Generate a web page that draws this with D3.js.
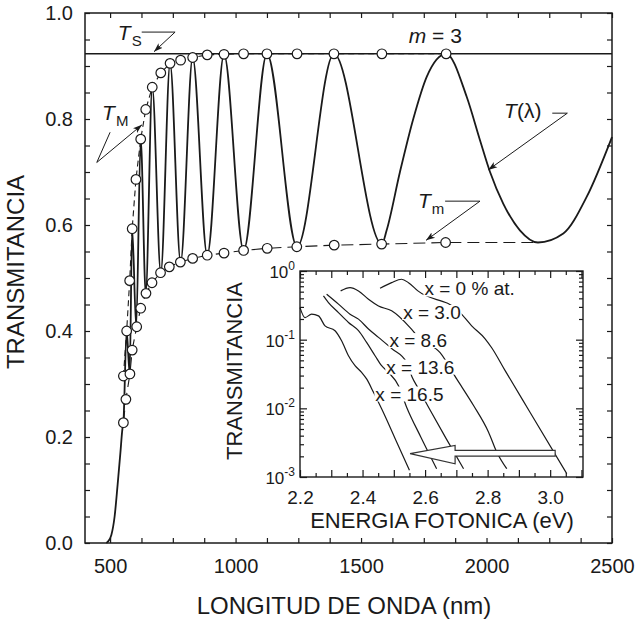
<!DOCTYPE html>
<html>
<head>
<meta charset="utf-8">
<script src="https://cdn.jsdelivr.net/npm/d3@7"></script>
<style type="text/css">

  body{
    margin: 0px;
    background: white;
  }

  svg{
    font-family: 'Liberation Sans', Arial, Helvetica, sans-serif;
  }

  .axis path{
    display: none;
  }
  .axis line{
    stroke: #1a1a1a;
    stroke-width: 1.2;
  }
  .axis text{
    fill: #1a1a1a;
    font-family: 'Liberation Sans', Arial, Helvetica, sans-serif;
  }

</style>
</head>
<body>

<svg id="chart" width="636" height="620"></svg>

<script>

// main spectrum T(lambda)
var lambdaT = [485, 492, 505, 518, 530, 541, 549, 553, 566, 578, 588, 604, 622, 642, 668, 702, 739, 781,
               829, 887, 954, 1032, 1125, 1245, 1392, 1583, 1602, 1655, 1708, 1762, 1839,
               1921, 1974, 2014, 2067, 2133, 2205, 2306, 2399, 2500];
var transT  = [0, 0.003, 0.015, 0.05, 0.11, 0.17, 0.215, 0.227, 0.40, 0.319, 0.593, 0.408, 0.762, 0.471, 0.86, 0.51, 0.905, 0.53,
               0.916, 0.543, 0.922, 0.552, 0.923, 0.559, 0.923, 0.564, 0.59, 0.70, 0.80, 0.88, 0.923,
               0.842, 0.76, 0.70, 0.64, 0.59, 0.567, 0.584, 0.653, 0.766];

// envelopes T_M (upper) and T_m (lower)
var lambdaUp = [553, 566, 578, 588, 603, 622, 642, 668, 702, 739, 781, 829, 887, 954, 1032, 1125, 1245, 1392, 1583, 1839];
var tUp      = [0.315, 0.40, 0.495, 0.593, 0.686, 0.762, 0.818, 0.86, 0.887, 0.905, 0.911, 0.916, 0.921, 0.922, 0.923, 0.923, 0.923, 0.923, 0.923, 0.923];
var lambdaLow = [553, 563, 579, 588, 606, 622, 643, 667, 701, 736, 780, 829, 887, 954, 1032, 1126, 1244, 1393, 1582, 1837];
var tLow      = [0.227, 0.271, 0.319, 0.364, 0.408, 0.443, 0.471, 0.491, 0.51, 0.521, 0.53, 0.537, 0.543, 0.547, 0.552, 0.556, 0.559, 0.562, 0.564, 0.567];
var lowTail = [2205, 0.567];   // dashed T_m continues to last minimum, no circle

var tSubstrate = 0.923;

var xTicks = d3.range(500, 2501, 125);
var yTicks = d3.range(0, 21).map(function(i) { return +(i * 0.05).toFixed(2); });

// inset: absorption edge for several compositions
var insetNames = ['x = 0 % at.', 'x = 3.0', 'x = 8.6', 'x = 13.6', 'x = 16.5'];
var eX0   = [2.456, 2.493, 2.525, 2.547, 2.577, 2.707, 2.749, 2.792, 2.813, 2.856, 2.936, 3.053];
var tX0   = [0.561, 0.676, 0.758, 0.676, 0.513, 0.263, 0.159, 0.103, 0.0762, 0.0354, 0.00869, 0.00112];
var eX30  = [2.330, 2.360, 2.387, 2.419, 2.451, 2.493, 2.552, 2.579, 2.648, 2.701, 2.755, 2.803, 2.829, 2.861];
var tX30  = [0.513, 0.573, 0.513, 0.388, 0.310, 0.263, 0.150, 0.108, 0.0646, 0.0268, 0.0110, 0.0045, 0.00231, 0.00132];
var eX86  = [2.285, 2.323, 2.360, 2.387, 2.419, 2.451, 2.494, 2.541, 2.558, 2.579, 2.611, 2.667, 2.723];
var tX86  = [0.459, 0.329, 0.235, 0.199, 0.143, 0.108, 0.0738, 0.0467, 0.0289, 0.0192, 0.0104, 0.00365, 0.00132];
var eX136 = [2.275, 2.291, 2.323, 2.355, 2.387, 2.413, 2.440, 2.461, 2.483, 2.515, 2.541, 2.587, 2.637];
var tX136 = [0.434, 0.347, 0.248, 0.178, 0.135, 0.0911, 0.0584, 0.0418, 0.0334, 0.0214, 0.0104, 0.00377, 0.00132];
var eX165 = [2.200, 2.216, 2.237, 2.259, 2.280, 2.312, 2.333, 2.355, 2.376, 2.397, 2.413, 2.435, 2.461, 2.504, 2.550];
var tX165 = [0.293, 0.210, 0.235, 0.222, 0.159, 0.135, 0.0964, 0.0584, 0.0418, 0.0334, 0.0268, 0.0171, 0.00984, 0.00365, 0.00125];

var insetE = [eX0, eX30, eX86, eX136, eX165];
var insetT = [tX0, tX30, tX86, tX136, tX165];
// label anchors (energy, transmittance) of the curve labels
var labelE = [2.598, 2.530, 2.486, 2.476, 2.441];
var labelT = [0.44, 0.20, 0.078, 0.032, 0.013];

var insetXTicks = d3.range(0, 19).map(function(i) { return +(2.2 + i * 0.05).toFixed(2); });
var insetYTicks = [];
[-3, -2, -1].forEach(function(k) {
  for (var m = 1; m <= 9; m++) insetYTicks.push(m * Math.pow(10, k));
});
insetYTicks.push(1);
var insetDecades = [-3, -2, -1, 0];

var ink = '#1a1a1a';

var svg = d3.select('#chart');

var x = d3.scaleLinear().domain([400, 2500]).range([85, 612]);
var y = d3.scaleLinear().domain([0, 1]).range([543, 13]);

var defs = svg.append('defs');
defs.append('marker')
  .attr('id', 'arr')
  .attr('viewBox', '0 0 10 10')
  .attr('refX', 10).attr('refY', 5)
  .attr('markerWidth', 9).attr('markerHeight', 9)
  .attr('markerUnits', 'userSpaceOnUse')
  .attr('orient', 'auto')
  .append('path')
  .attr('d', 'M0,1.5 L10,5 L0,8.5 L2.5,5 z')
  .attr('fill', ink);

// ---- main axes
svg.append('g').attr('class', 'axis').attr('transform', 'translate(0,543)')
  .call(d3.axisBottom(x).tickValues(xTicks).tickSize(-5).tickSizeOuter(0).tickPadding(16)
    .tickFormat(function(d) { return d % 500 === 0 ? d : ''; }))
  .selectAll('text').style('font-size', '20px');

svg.append('g').attr('class', 'axis').attr('transform', 'translate(0,13)')
  .call(d3.axisTop(x).tickValues(xTicks).tickSize(-5).tickSizeOuter(0).tickFormat(''));

svg.append('g').attr('class', 'axis').attr('transform', 'translate(85,0)')
  .call(d3.axisLeft(y).tickValues(yTicks).tickSize(-5).tickSizeOuter(0).tickPadding(12)
    .tickFormat(function(d, i) { return i % 4 === 0 ? d3.format('.1f')(d) : ''; }))
  .selectAll('text').style('font-size', '20px');

svg.append('g').attr('class', 'axis').attr('transform', 'translate(612,0)')
  .call(d3.axisRight(y).tickValues(yTicks).tickSize(-5).tickSizeOuter(0).tickFormat(''));

svg.append('rect')
  .attr('x', 85).attr('y', 13).attr('width', 527).attr('height', 530)
  .attr('fill', 'none').attr('stroke', ink).attr('stroke-width', 1.5);

svg.append('text')
  .attr('x', 344).attr('y', 614)
  .attr('text-anchor', 'middle')
  .style('font-size', '24px').attr('fill', ink)
  .text('LONGITUD DE ONDA (nm)');

svg.append('text')
  .attr('transform', 'translate(24,272) rotate(-90)')
  .attr('text-anchor', 'middle')
  .style('font-size', '24px').attr('fill', ink)
  .text('TRANSMITANCIA');

// ---- curves
var line = d3.line()
  .x(function(d) { return x(d[0]); })
  .y(function(d) { return y(d[1]); });

svg.append('line')
  .attr('x1', x(400)).attr('x2', x(2500))
  .attr('y1', y(tSubstrate)).attr('y2', y(tSubstrate))
  .attr('stroke', ink).attr('stroke-width', 1.6);

var upPts = lambdaUp.map(function(l, i) { return [l, tUp[i]]; });
var lowPts = lambdaLow.map(function(l, i) { return [l, tLow[i]]; });

svg.append('path')
  .attr('d', line(upPts))
  .attr('fill', 'none').attr('stroke', ink).attr('stroke-width', 1.1)
  .attr('stroke-dasharray', '6,4');

svg.append('path')
  .attr('d', line(lowPts.concat([lowTail])))
  .attr('fill', 'none').attr('stroke', ink).attr('stroke-width', 1.1)
  .attr('stroke-dasharray', '12,6');

svg.append('path')
  .attr('d', line.curve(d3.curveMonotoneX)(lambdaT.map(function(l, i) { return [l, transT[i]]; })))
  .attr('fill', 'none').attr('stroke', ink).attr('stroke-width', 1.8);
line.curve(d3.curveLinear);

svg.selectAll('.env')
  .data(upPts.concat(lowPts))
  .enter().append('circle')
  .attr('class', 'env')
  .attr('cx', function(d) { return x(d[0]); })
  .attr('cy', function(d) { return y(d[1]); })
  .attr('r', 4.8)
  .attr('fill', 'white').attr('stroke', ink).attr('stroke-width', 1.2);

// ---- annotations
function leader(pts, arrow) {
  svg.append('path')
    .attr('d', line(pts))
    .attr('fill', 'none').attr('stroke', ink).attr('stroke-width', 1)
    .attr('marker-end', arrow ? 'url(#arr)' : null);
}

function symbol(px, py, main, sub, rest) {
  var t = svg.append('text').attr('x', px).attr('y', py)
    .style('font-size', '21px').attr('fill', ink);
  t.append('tspan').style('font-style', 'italic').text(main);
  if (sub) t.append('tspan').attr('dy', 6).attr('dx', 1).style('font-size', '15px').text(sub);
  if (rest) t.append('tspan').text(rest);
}

symbol(x(531), y(0.949), 'T', 'S');
leader([[626, 0.964], [759, 0.964], [675, 0.927]], true);

symbol(x(468), y(0.798), 'T', 'M');
leader([[500, 0.775], [447, 0.718]], false);
leader([[447, 0.718], [627, 0.789]], true);

symbol(x(1690), y(0.943), 'm', null, ' = 3');

symbol(x(2070), y(0.801), 'T', null, '(λ)');
leader([[2262, 0.811], [2322, 0.811], [2007, 0.704]], true);

symbol(x(1727), y(0.632), 'T', 'm');
leader([[1835, 0.645], [1974, 0.645], [1759, 0.571]], true);

// ---- inset
var ix = d3.scaleLinear().domain([2.2, 3.105]).range([300, 583]);
var iy = d3.scaleLog().domain([0.001, 1]).range([477, 271]);

var inset = svg.append('g');

inset.append('rect')
  .attr('x', 300).attr('y', 271).attr('width', 283).attr('height', 206)
  .attr('fill', 'white');

function isMajorE(d) { return Math.abs(d * 10 - Math.round(d * 10)) < 1e-6; }
function isDecade(d) { return Math.abs(Math.log10(d) - Math.round(Math.log10(d))) < 1e-6; }

inset.append('g').attr('class', 'axis').attr('transform', 'translate(0,477)')
  .call(d3.axisBottom(ix).tickValues(insetXTicks).tickSize(-4).tickSizeOuter(0).tickPadding(14)
    .tickFormat(function(d) { return Math.abs((d - 2.2) / 0.2 - Math.round((d - 2.2) / 0.2)) < 1e-6 ? d3.format('.1f')(d) : ''; }))
  .call(function(g) {
    g.selectAll('.tick line').attr('y2', function(d) { return isMajorE(d) ? -7 : -4; });
    g.selectAll('text').style('font-size', '19px');
  });

inset.append('g').attr('class', 'axis').attr('transform', 'translate(0,271)')
  .call(d3.axisTop(ix).tickValues(insetXTicks).tickSize(-4).tickSizeOuter(0).tickFormat(''))
  .call(function(g) {
    g.selectAll('.tick line').attr('y2', function(d) { return isMajorE(d) ? 7 : 4; });
  });

inset.append('g').attr('class', 'axis').attr('transform', 'translate(300,0)')
  .call(d3.axisLeft(iy).tickValues(insetYTicks).tickSize(-4).tickSizeOuter(0).tickFormat(''))
  .call(function(g) {
    g.selectAll('.tick line').attr('x2', function(d) { return isDecade(d) ? 7 : 4; });
  });

inset.append('g').attr('class', 'axis').attr('transform', 'translate(583,0)')
  .call(d3.axisRight(iy).tickValues(insetYTicks).tickSize(-4).tickSizeOuter(0).tickFormat(''))
  .call(function(g) {
    g.selectAll('.tick line').attr('x2', function(d) { return isDecade(d) ? -7 : -4; });
  });

inset.append('rect')
  .attr('x', 300).attr('y', 271).attr('width', 283).attr('height', 206)
  .attr('fill', 'none').attr('stroke', ink).attr('stroke-width', 1.4);

insetDecades.forEach(function(k) {
  var t = inset.append('text')
    .attr('x', 295).attr('y', iy(Math.pow(10, k)) + 7)
    .attr('text-anchor', 'end')
    .style('font-size', '17px').attr('fill', ink);
  t.append('tspan').text('10');
  t.append('tspan').attr('dy', -8).style('font-size', '12px').text(k === 0 ? '0' : '-' + (-k));
});

inset.append('text')
  .attr('x', 442).attr('y', 528)
  .attr('text-anchor', 'middle')
  .style('font-size', '22px').attr('fill', ink)
  .text('ENERGIA FOTONICA (eV)');

inset.append('text')
  .attr('transform', 'translate(242,371) rotate(-90)')
  .attr('text-anchor', 'middle')
  .style('font-size', '22px').attr('fill', ink)
  .text('TRANSMITANCIA');

var iline = d3.line()
  .x(function(d) { return ix(d[0]); })
  .y(function(d) { return iy(d[1]); })
  .curve(d3.curveMonotoneX);

insetE.forEach(function(es, j) {
  inset.append('path')
    .attr('d', iline(es.map(function(e, i) { return [e, insetT[j][i]]; })))
    .attr('fill', 'none').attr('stroke', ink).attr('stroke-width', 1.2);
});

// curve labels sit on white so the curves break under them
insetNames.forEach(function(name, j) {
  var t = inset.append('text')
    .attr('x', ix(labelE[j])).attr('y', iy(labelT[j]))
    .style('font-size', '19px').attr('fill', ink)
    .text(name);
  var bb = t.node().getBBox();
  inset.insert('rect', function() { return t.node(); })
    .attr('x', bb.x - 1).attr('y', bb.y + 3)
    .attr('width', bb.width + 2).attr('height', bb.height - 6)
    .attr('fill', 'white');
});

// hollow arrow pointing to lower energies
var arrowE = [2.552, 2.696, 2.696, 3.016, 3.016, 2.696, 2.696];
var arrowT = [0.00219, 0.00288, 0.00244, 0.00244, 0.00202, 0.00202, 0.00156];
inset.append('path')
  .attr('d', d3.line()
    .x(function(d) { return ix(d[0]); })
    .y(function(d) { return iy(d[1]); })(arrowE.map(function(e, i) { return [e, arrowT[i]]; })) + 'Z')
  .attr('fill', 'white').attr('stroke', '#333').attr('stroke-width', 1.2);

</script>

</body>
</html>
